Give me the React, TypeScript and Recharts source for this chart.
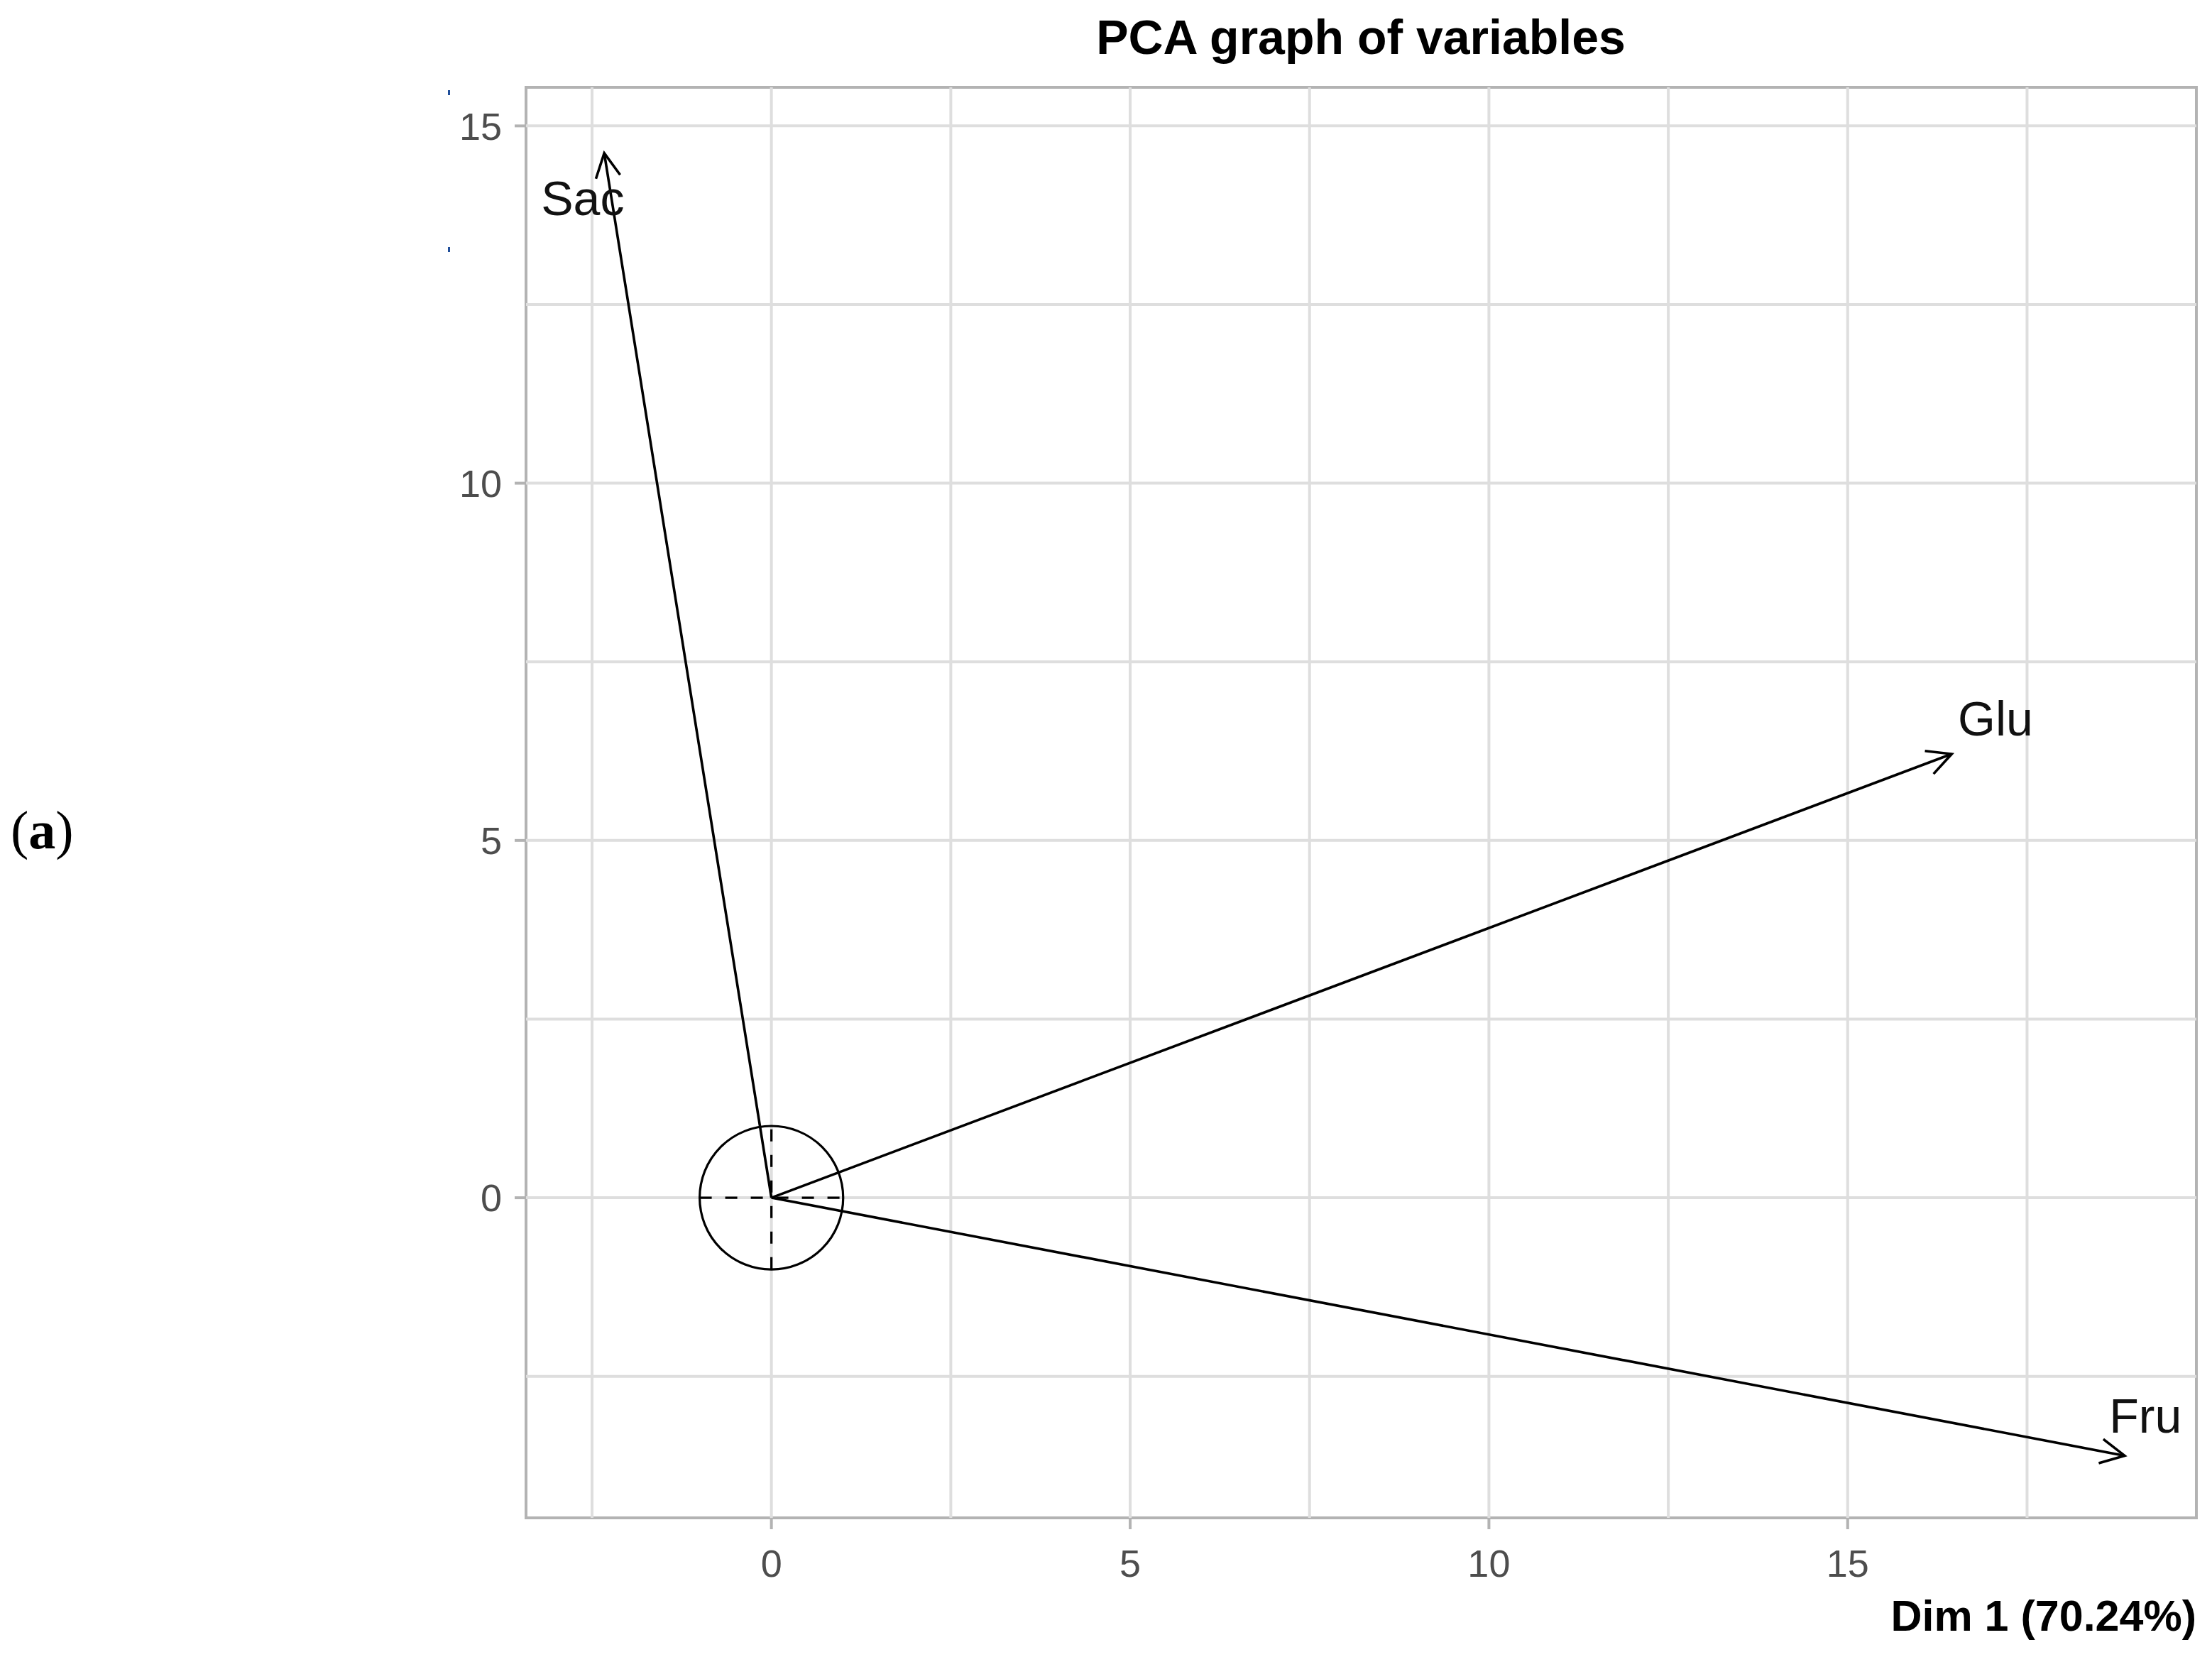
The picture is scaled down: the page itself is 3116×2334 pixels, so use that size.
import React from 'react';
import { ScatterChart, Scatter, XAxis, YAxis, ReferenceLine, ReferenceArea } from 'recharts';

const varNames = ['Sac', 'Glu', 'Fru'];
const dim1 = [-2.33, 16.45, 18.86];
const dim2 = [14.62, 6.21, -3.61];
const labelDim1 = [-2.63, 17.06, 19.15];
const labelDim2 = [13.99, 6.71, -3.05];
const xTicks = [0, 5, 10, 15];
const yTicks = [0, 5, 10, 15];
const xGrid = [-2.5, 0, 2.5, 5, 7.5, 10, 12.5, 15, 17.5];
const yGrid = [-2.5, 0, 2.5, 5, 7.5, 10, 12.5, 15];
const xDomain: [number, number] = [-3.42, 19.86];
const yDomain: [number, number] = [-4.48, 15.54];
const unitRadius = 1;

const FONT = '"Liberation Sans", Arial, sans-serif';

const labelData = varNames.map((n, i) => ({ name: n, x: labelDim1[i], y: labelDim2[i] }));

const arrowShape = (p: any) => {
  const { x1, y1, x2, y2 } = p;
  const ang = Math.atan2(y2 - y1, x2 - x1);
  const L = 38;
  const a = (27 * Math.PI) / 180;
  const ax = x2 - L * Math.cos(ang - a);
  const ay = y2 - L * Math.sin(ang - a);
  const bx = x2 - L * Math.cos(ang + a);
  const by = y2 - L * Math.sin(ang + a);
  return (
    <g>
      <line x1={x1} y1={y1} x2={x2} y2={y2} stroke="#000" strokeWidth={3.6} />
      <polyline points={`${ax},${ay} ${x2},${y2} ${bx},${by}`} fill="none" stroke="#000" strokeWidth={3.6} />
    </g>
  );
};

const circleShape = (p: any) => {
  const { x1, y1, x2, y2 } = p;
  const cx = (x1 + x2) / 2;
  const cy = (y1 + y2) / 2;
  const r = Math.abs(x2 - x1) / 2;
  return (
    <g>
      <circle cx={cx} cy={cy} r={r} fill="none" stroke="#000" strokeWidth={3.2} />
      <line x1={x1} y1={y1} x2={x2} y2={y2} stroke="#000" strokeWidth={3.2} strokeDasharray="17 19" />
    </g>
  );
};

const dashShape = (p: any) => {
  const { x1, y1, x2, y2 } = p;
  return <line x1={x1} y1={y1} x2={x2} y2={y2} stroke="#000" strokeWidth={3.2} strokeDasharray="17 19" />;
};

const labelShape = (p: any) => (
  <text x={p.cx} y={p.cy + 24} textAnchor="middle" fontSize={68} fill="#111" fontFamily={FONT}>
    {p.payload.name}
  </text>
);

export default function App() {
  return (
    <div style={{ position: 'absolute', left: 0, top: 0, width: 3116, height: 2334, background: '#fff' }}>
      <ScatterChart width={3116} height={2334} margin={{ top: 123, right: 22, bottom: 96, left: 641 }}>
        <XAxis
          type="number"
          dataKey="x"
          domain={xDomain}
          ticks={xTicks}
          interval={0}
          allowDataOverflow
          axisLine={false}
          tickLine={{ stroke: '#b3b3b3', strokeWidth: 4 }}
          tickSize={16}
          tickMargin={29}
          height={100}
          tick={{ fill: '#4d4d4d', fontSize: 54, fontFamily: FONT }}
        />
        <YAxis
          type="number"
          dataKey="y"
          domain={yDomain}
          ticks={yTicks}
          interval={0}
          allowDataOverflow
          axisLine={false}
          tickLine={{ stroke: '#b3b3b3', strokeWidth: 4 }}
          tickSize={16}
          tickMargin={18}
          width={100}
          tick={{ fill: '#4d4d4d', fontSize: 54, fontFamily: FONT }}
        />
        {xGrid.map((v) => (
          <ReferenceLine key={'gx' + v} x={v} stroke="#dedede" strokeWidth={4} />
        ))}
        {yGrid.map((v) => (
          <ReferenceLine key={'gy' + v} y={v} stroke="#dedede" strokeWidth={4} />
        ))}
        <ReferenceArea
          x1={xDomain[0]}
          x2={xDomain[1]}
          y1={yDomain[0]}
          y2={yDomain[1]}
          fill="none"
          fillOpacity={0}
          stroke="#b3b3b3"
          strokeWidth={4}
          ifOverflow="visible"
        />
        <ReferenceLine
          segment={[{ x: -unitRadius, y: 0 }, { x: unitRadius, y: 0 }]}
          shape={circleShape}
        />
        <ReferenceLine
          segment={[{ x: 0, y: -unitRadius }, { x: 0, y: unitRadius }]}
          shape={dashShape}
        />
        {varNames.map((n, i) => (
          <ReferenceLine
            key={'arrow' + n}
            segment={[{ x: 0, y: 0 }, { x: dim1[i], y: dim2[i] }]}
            shape={arrowShape}
          />
        ))}
        <Scatter data={labelData} shape={labelShape} isAnimationActive={false} />
      </ScatterChart>
      <svg
        width={3116}
        height={2334}
        style={{ position: 'absolute', left: 0, top: 0, pointerEvents: 'none' }}
      >
        <text x={1917} y={76} textAnchor="middle" fontSize={68} fontWeight="bold" fill="#000" fontFamily={FONT}>
          PCA graph of variables
        </text>
        <text x={3094} y={2297} textAnchor="end" fontSize={61} fontWeight="bold" fill="#000" fontFamily={FONT}>
          Dim 1 (70.24%)
        </text>
        <text x={15} y={1195} fontSize={76} fill="#000" fontFamily='"Liberation Serif", "Times New Roman", serif'>
          (<tspan fontWeight="bold">a</tspan>)
        </text>
        <rect x={631} y={127} width={3} height={7} fill="#1f4e9a" />
        <rect x={631} y={348} width={3} height={7} fill="#1f4e9a" />
      </svg>
    </div>
  );
}
